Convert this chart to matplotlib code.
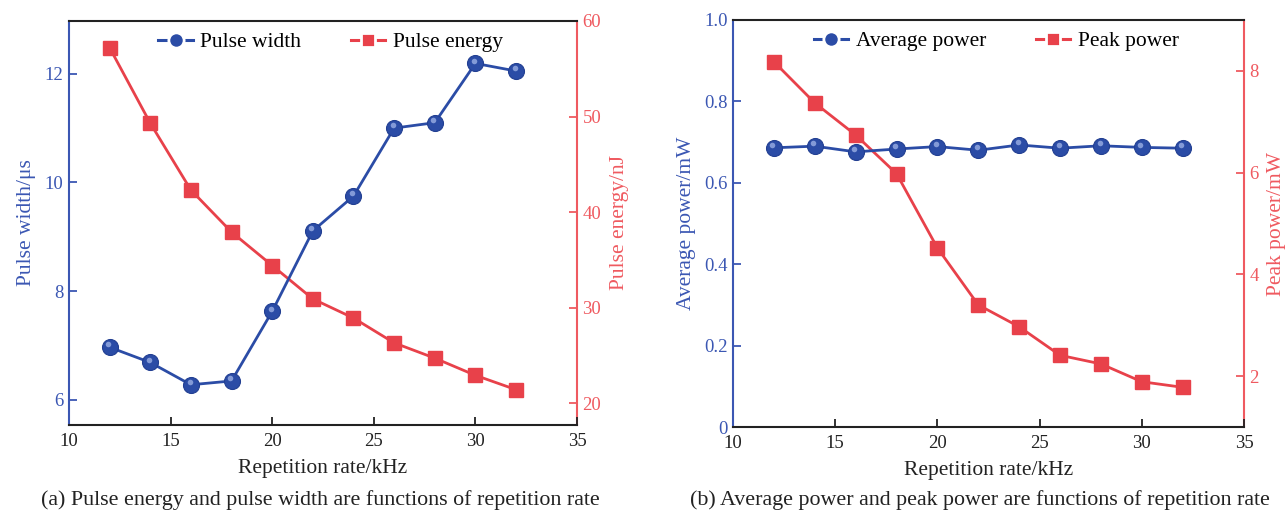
import matplotlib
matplotlib.use("Agg")
import matplotlib.pyplot as plt
import matplotlib.transforms as mtransforms
from matplotlib.lines import Line2D

plt.rcParams['font.family'] = ['Liberation Serif', 'DejaVu Serif']

rate = [12, 14, 16, 18, 20, 22, 24, 26, 28, 30, 32]
pulse_width = [6.97, 6.69, 6.28, 6.35, 7.63, 9.11, 9.75, 11.0, 11.1, 12.19, 12.05]
pulse_energy = [57.2, 49.3, 42.3, 37.9, 34.4, 30.9, 28.9, 26.3, 24.7, 22.9, 21.4]
avg_power = [0.686, 0.690, 0.676, 0.683, 0.689, 0.680, 0.693, 0.685, 0.691, 0.687, 0.685]
peak_power = [8.18, 7.37, 6.74, 5.98, 4.52, 3.40, 2.97, 2.41, 2.24, 1.89, 1.78]

x_ticks = [10, 15, 20, 25, 30, 35]

BLUE = '#2b4ca6'
BLUE_AX = '#3b57b3'
RED = '#e8414a'
RED_AX = '#ef5a60'
DARK = '#222222'
FS = 13.5
FS_LAB = 15.5
FS_LEG = 15.5
FS_CAP = 15.8

W, H = 1287, 514
fig = plt.figure(figsize=(W / 100, H / 100), dpi=100)

def frac(l, r, t, b):
    return [l / W, 1 - b / H, (r - l) / W, (b - t) / H]

def sphere(ax, x, y):
    ax.plot(x, y, '-', color=BLUE, lw=2.0, marker='o', ms=11.5,
            mfc=BLUE, mec='#223f92', mew=0.8, zorder=4)
    tr = mtransforms.offset_copy(ax.transData, fig=fig, x=-1.0, y=2.0, units='points')
    ax.plot(x, y, ls='none', marker='o', ms=4.0, mfc='#a9bcec', mec='none',
            alpha=0.7, transform=tr, zorder=5)

def style(ax, ax2, ylabel_l, ylabel_r):
    ax.set_xlim(10, 35)
    ax.set_xticks(x_ticks)
    ax.spines['left'].set_color(BLUE_AX)
    ax.spines['left'].set_linewidth(1.5)
    ax.spines['bottom'].set_linewidth(1.5)
    ax.spines['top'].set_linewidth(1.5)
    ax.spines['bottom'].set_color(DARK)
    ax.spines['top'].set_color(DARK)
    ax.spines['right'].set_visible(False)
    ax2.spines['right'].set_color(RED_AX)
    ax2.spines['right'].set_linewidth(1.5)
    for s in ['left', 'top', 'bottom']:
        ax2.spines[s].set_visible(False)
    ax.tick_params(axis='x', direction='in', length=6, width=1.3, labelsize=FS,
                   colors=DARK, pad=6)
    ax.tick_params(axis='y', direction='in', length=6, width=1.3, labelsize=FS,
                   colors=BLUE_AX, labelcolor=BLUE_AX, pad=4)
    ax2.tick_params(axis='y', direction='in', length=6, width=1.3, labelsize=FS,
                    colors=RED_AX, labelcolor=RED_AX, pad=4)
    ax.set_xlabel('Repetition rate/kHz', fontsize=FS_LAB, color=DARK, labelpad=6)
    ax.set_ylabel(ylabel_l, fontsize=FS_LAB, color=BLUE_AX, labelpad=6)
    ax2.set_ylabel(ylabel_r, fontsize=FS_LAB, color=RED_AX, labelpad=6)

def legend(ax, lab1, lab2):
    h1 = Line2D([], [], color=BLUE, lw=2.2, ls='-', marker='o', ms=11,
                mfc=BLUE, mec='white', mew=2.0)
    h2 = Line2D([], [], color=RED, lw=2.2, ls='-', marker='s', ms=10.5,
                mfc=RED, mec='white', mew=2.0)
    ax.legend([h1, h2], [lab1, lab2], loc='upper center', ncol=2, frameon=False,
              fontsize=FS_LEG, handlelength=1.6, columnspacing=2.3,
              handletextpad=0.35, bbox_to_anchor=(0.515, 1.02))

# Panel (a)
axA = fig.add_axes(frac(69, 577, 21, 425))
axA2 = axA.twinx()
axA2.plot(rate, pulse_energy, '-', color=RED, lw=2.0, marker='s', ms=10,
          mfc=RED, mec=RED, zorder=3)
axA.set_zorder(axA2.get_zorder() + 1)
axA.patch.set_visible(False)
sphere(axA, rate, pulse_width)
axA.set_ylim(5.54, 12.97)
axA.set_yticks([6, 8, 10, 12])
axA2.set_ylim(17.7, 60)
axA2.set_yticks([20, 30, 40, 50, 60])
style(axA, axA2, 'Pulse width/μs', 'Pulse energy/nJ')
legend(axA, 'Pulse width', 'Pulse energy')

# Panel (b)
axB = fig.add_axes(frac(733, 1244, 20, 427))
axB2 = axB.twinx()
axB2.plot(rate, peak_power, '-', color=RED, lw=2.0, marker='s', ms=10,
          mfc=RED, mec=RED, zorder=3)
axB.set_zorder(axB2.get_zorder() + 1)
axB.patch.set_visible(False)
sphere(axB, rate, avg_power)
axB.set_ylim(0, 1.0)
axB.set_yticks([0, 0.2, 0.4, 0.6, 0.8, 1.0])
axB.set_yticklabels(['0', '0.2', '0.4', '0.6', '0.8', '1.0'])
axB2.set_ylim(1, 9)
axB2.set_yticks([2, 4, 6, 8])
style(axB, axB2, 'Average power/mW', 'Peak power/mW')
legend(axB, 'Average power', 'Peak power')

fig.text(320 / W, 1 - 500 / H, '(a) Pulse energy and pulse width are functions of repetition rate',
         ha='center', va='center', fontsize=FS_CAP, color=DARK)
fig.text(980 / W, 1 - 500 / H, '(b) Average power and peak power are functions of repetition rate',
         ha='center', va='center', fontsize=FS_CAP, color=DARK)

fig.savefig('out.png', dpi=100)
